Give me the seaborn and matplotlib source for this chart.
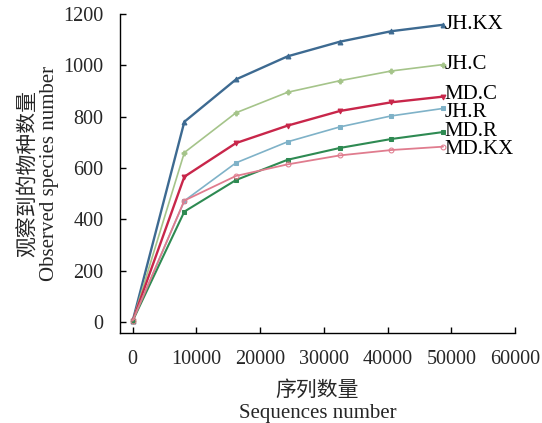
import matplotlib
matplotlib.use("Agg")
import matplotlib.pyplot as plt
import seaborn as sns
import pandas as pd

sequences = [0, 8100, 16200, 24300, 32500, 40600, 48700]
groups = ["JH.KX", "JH.C", "MD.C", "JH.R", "MD.R", "MD.KX"]
jh_kx = [5, 780, 945, 1035, 1092, 1133, 1158]
jh_c = [5, 660, 815, 895, 940, 978, 1003]
md_c = [5, 566, 697, 765, 822, 856, 878]
jh_r = [5, 472, 620, 702, 760, 803, 832]
md_r = [5, 430, 553, 632, 678, 713, 740]
md_kx = [5, 473, 569, 614, 649, 670, 683]
values = [jh_kx, jh_c, md_c, jh_r, md_r, md_kx]

colors = ["#3d6a91", "#a5c48a", "#c8264a", "#7fb2c8", "#2e8a52", "#e07c8e"]
markers = ["^", "P", "v", "s", "s", "o"]
widths = [1.7, 1.2, 1.7, 1.2, 1.5, 1.3]
label_dy = [0, 0, 1.5, -3, 0.5, -2]

rows = []
for g, vals in zip(groups, values):
    for x, v in zip(sequences, vals):
        rows.append({"seq": x, "obs": v, "group": g})
df = pd.DataFrame(rows)

sns.set_style("ticks")
plt.rcParams["font.family"] = ["Liberation Serif", "Noto Sans CJK SC"]
plt.rcParams["xtick.direction"] = "in"
plt.rcParams["ytick.direction"] = "in"

fig = plt.figure(figsize=(5.42, 4.23), dpi=100)
ax = fig.add_axes([120 / 542, 1 - 333 / 423, (515 - 120) / 542, (333 - 14) / 423])

for g, c, m, w, dy in zip(groups, colors, markers, widths, label_dy):
    sub = df[df["group"] == g]
    sns.lineplot(data=sub, x="seq", y="obs", ax=ax, color=c, marker=m,
                 markersize=3.5, linewidth=w, markeredgecolor=c,
                 markerfacecolor=("none" if m == "o" else c), legend=False)
    ax.annotate(g, (sub["seq"].iloc[-1], sub["obs"].iloc[-1]),
                xytext=(1, dy), textcoords="offset points",
                fontsize=15, va="center", ha="left", color="black")

ax.set_xlim(-2000, 60000)
ax.set_ylim(-43, 1200)
ax.set_xticks([0, 10000, 20000, 30000, 40000, 50000, 60000])
ax.set_yticks([0, 200, 400, 600, 800, 1000, 1200])
ax.tick_params(labelsize=14.5, length=4, width=1, color="black")
ax.tick_params(axis="x", pad=12)
ax.tick_params(axis="y", pad=12)
for s in ["left", "bottom"]:
    ax.spines[s].set_linewidth(1.0)
    ax.spines[s].set_color("black")
sns.despine(ax=ax)

ax.set_xlabel("序列数量\nSequences number", fontsize=15, labelpad=9, linespacing=1.25)
ax.set_ylabel("观察到的物种数量\nObserved species number", fontsize=15, labelpad=3, linespacing=1.1)

fig.savefig("out.png", dpi=100)
